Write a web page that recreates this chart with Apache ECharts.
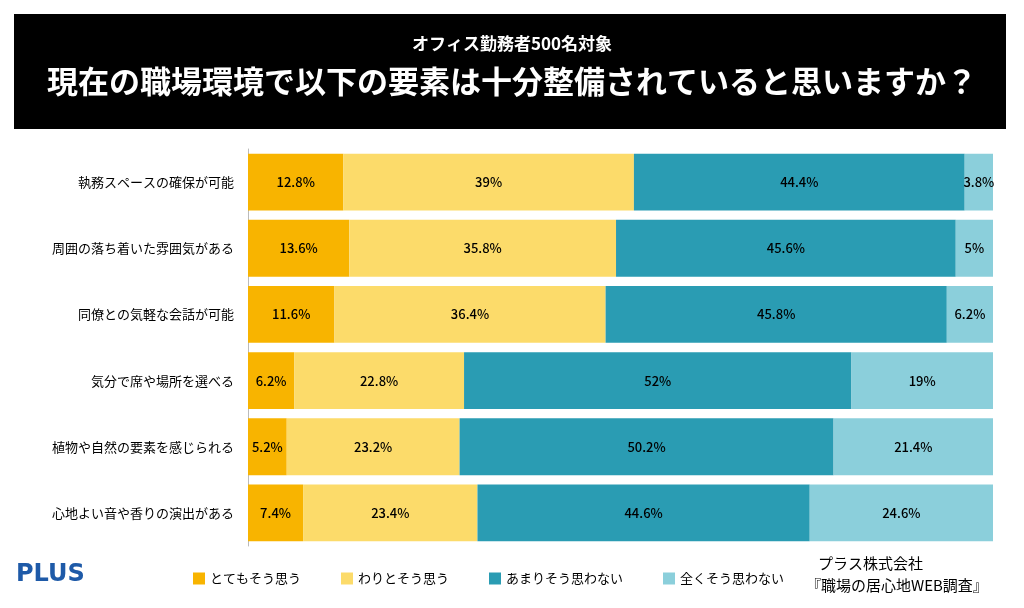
<!DOCTYPE html>
<html><head><meta charset="utf-8">
<script src="https://cdn.jsdelivr.net/npm/echarts@6/dist/echarts.min.js"></script>
<style>body{margin:0;background:#fff}#c{width:1024px;height:608px}</style>
</head><body><div id="c"></div>
<script>
const categories=['執務スペースの確保が可能','周囲の落ち着いた雰囲気がある','同僚との気軽な会話が可能','気分で席や場所を選べる','植物や自然の要素を感じられる','心地よい音や香りの演出がある'];
const seriesNames=['とてもそう思う','わりとそう思う','あまりそう思わない','全くそう思わない'];
const s1=[12.8,13.6,11.6,6.2,5.2,7.4];
const s2=[39,35.8,36.4,22.8,23.2,23.4];
const s3=[44.4,45.6,45.8,52,50.2,44.6];
const s4=[3.8,5,6.2,19,21.4,24.6];
const colors=['#F8B400','#FCDB6A','#2A9CB3','#8BCFDB'];
const F='"Noto Sans CJK JP", sans-serif';
const chart=echarts.init(document.getElementById('c'));
chart.setOption({
  textStyle:{fontFamily:F},
  graphic:[
    {type:'rect',shape:{x:14,y:14,width:992,height:115},style:{fill:'#000'}},
    {type:'text',left:'center',top:35,style:{text:'オフィス勤務者500名対象',fill:'#fff',font:'bold 17px '+F}},
    {type:'text',left:'center',top:66,style:{text:'現在の職場環境で以下の要素は十分整備されていると思いますか？',fill:'#fff',font:'bold 31px '+F}},
    {type:'text',left:16,top:563,style:{text:'PLUS',fill:'#1E5AA8',font:'bold 24px "DejaVu Sans", sans-serif'}},
    {type:'text',left:818,top:556,style:{text:'プラス株式会社',fill:'#000',font:'15px '+F}},
    {type:'text',left:806,top:578,style:{text:'『職場の居心地WEB調査』',fill:'#000',font:'15px '+F}}
  ],
  legend:{bottom:18,left:188,itemWidth:12,itemHeight:12,itemGap:40,icon:'rect',textStyle:{fontSize:13,color:'#000'},data:seriesNames},
  grid:{left:248,right:31,top:149,bottom:62},
  xAxis:{type:'value',min:0,max:100,show:false},
  yAxis:{type:'category',inverse:true,data:categories,axisTick:{show:false},axisLine:{lineStyle:{color:'#bbb'}},axisLabel:{fontSize:13,color:'#000',margin:14}},
  series:[s1,s2,s3,s4].map((d,i)=>({name:seriesNames[i],type:'bar',stack:'a',data:d,barCategoryGap:'14%',itemStyle:{color:colors[i]},
    label:{show:true,position:'inside',formatter:p=>p.value+'%',color:'#000',fontSize:13,fontWeight:500}}))
});
</script></body></html>
